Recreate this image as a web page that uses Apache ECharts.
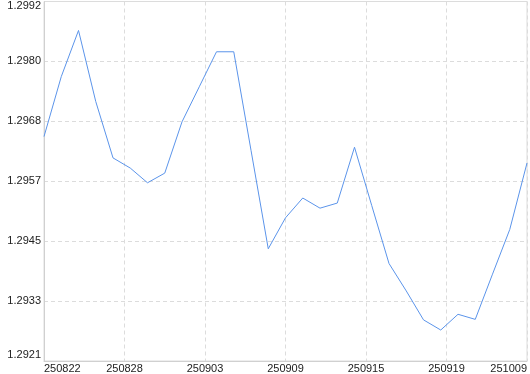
<!DOCTYPE html>
<html>
<head>
<meta charset="utf-8">
<script src="https://cdn.jsdelivr.net/npm/echarts@6/dist/echarts.min.js"></script>
<style>html,body{margin:0;padding:0;background:#fff}#c{width:530px;height:374px}</style>
</head>
<body>
<div id="c"></div>
<script>
var tickLabels = ['250822', '250828', '250903', '250909', '250915', '250919', '251009'];
var values = [
  1.29654, 1.29772, 1.29863, 1.29723, 1.29612, 1.29592, 1.29563, 1.29582,
  1.29683, 1.29752, 1.29821, 1.29821, 1.29627, 1.29433, 1.29494, 1.29533,
  1.29513, 1.29523, 1.29633, 1.29518, 1.29404, 1.29350, 1.29293, 1.29273,
  1.29304, 1.29294, 1.29383, 1.29471, 1.29602
];
var yMin = 1.29212, yMax = 1.2992, yStep = 0.00118;

var last = values.length - 1;
var xStep = last / (tickLabels.length - 1);
var font = '"Liberation Sans", Arial, sans-serif';

var chart = echarts.init(document.getElementById('c'), null, {renderer: 'canvas'});
chart.setOption({
  animation: false,
  grid: {left: 44, right: 2, top: 1, bottom: 12, containLabel: false,
         show: true, borderColor: '#dcdcdc', borderWidth: 1, backgroundColor: 'transparent'},
  xAxis: {
    type: 'value', min: 0, max: last, interval: xStep,
    axisLine: {show: true, lineStyle: {color: '#d0d0d0'}},
    axisTick: {show: false},
    splitLine: {show: true, lineStyle: {color: '#dcdcdc', type: [4, 3]}},
    axisLabel: {
      margin: 2, color: '#222', fontSize: 11, fontFamily: font,
      alignMinLabel: 'left', alignMaxLabel: 'right',
      formatter: function (v) { return tickLabels[Math.round(v / xStep)] || ''; }
    }
  },
  yAxis: {
    type: 'value', min: yMin, max: yMax, interval: yStep,
    axisLine: {show: true, lineStyle: {color: '#d0d0d0'}},
    axisTick: {show: false},
    splitLine: {show: true, lineStyle: {color: '#dcdcdc', type: [4, 3]}},
    axisLabel: {
      margin: 3, color: '#222', fontSize: 11, fontFamily: font,
      formatter: function (v, i) {
        var s = v.toFixed(4);
        if (Math.abs(v - yMin) < 1e-7) return '{lo|' + s + '}';
        if (Math.abs(v - yMax) < 1e-7) return '{hi|' + s + '}';
        return s;
      },
      rich: {
        lo: {padding: [0, 0, 13, 0], color: '#222', fontSize: 11, fontFamily: font},
        hi: {padding: [8, 0, 0, 0], color: '#222', fontSize: 11, fontFamily: font}
      }
    }
  },
  series: [{
    type: 'line',
    data: values.map(function (v, i) { return [i, v]; }),
    showSymbol: false, symbol: 'none',
    lineStyle: {color: '#5b94ea', width: 1},
    itemStyle: {color: '#5b94ea'}
  }]
});
</script>
</body>
</html>
